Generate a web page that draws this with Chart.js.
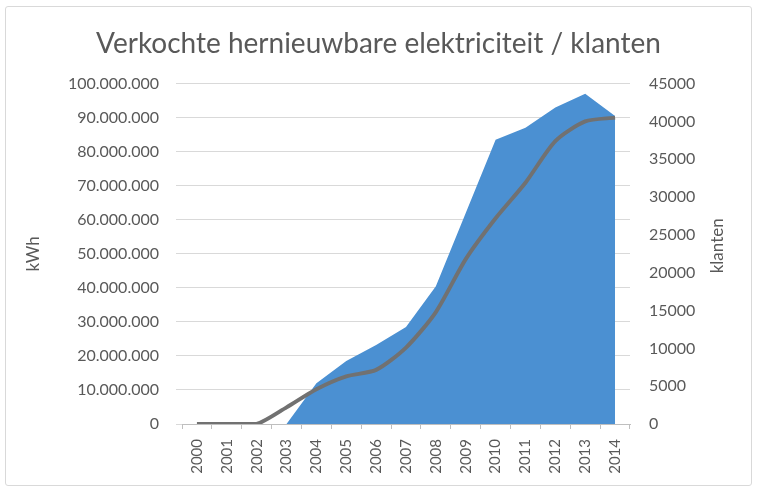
<!DOCTYPE html>
<html>
<head>
<meta charset="utf-8">
<script src="https://cdn.jsdelivr.net/npm/chart.js@4.4.1/dist/chart.umd.min.js"></script>
<style>
  html, body { margin: 0; padding: 0; background: #ffffff; }
  #wrap { position: relative; width: 757px; height: 491px; }
  #frame { position: absolute; left: 5px; top: 6px; width: 745px; height: 478px; border: 1px solid #d9d9d9; border-radius: 3px; pointer-events: none; }
  canvas { position: absolute; left: 0; top: 0; }
</style>
</head>
<body>
<div id="wrap">
  <canvas id="c" width="757" height="491"></canvas>
  <div id="frame"></div>
</div>
<script>
const titleText = 'Verkochte hernieuwbare elektriciteit / klanten';
const leftAxisTitle = 'kWh';
const rightAxisTitle = 'klanten';
const years = ['2000','2001','2002','2003','2004','2005','2006','2007','2008','2009','2010','2011','2012','2013','2014'];
const kwh = [0, 0, 0, 0, 12000000, 18500000, 23200000, 28500000, 40500000, 62000000, 83500000, 87000000, 93000000, 97000000, 90500000];
const klanten = [0, 0, 0, 2200, 4600, 6300, 7150, 10100, 14800, 21800, 27200, 31900, 37400, 40000, 40500];

const textColor = '#595959';
const gridColor = '#d9d9d9';
const FONT = 'Lato';

function dotThousands(v) {
  return String(Math.round(v)).replace(/\B(?=(\d{3})+(?!\d))/g, '.');
}

const rightTitlePlugin = {
  id: 'rightTitle',
  afterDraw(chart) {
    const ctx = chart.ctx;
    const area = chart.chartArea;
    ctx.save();
    ctx.translate(718, (area.top + area.bottom) / 2 - 8);
    ctx.rotate(-Math.PI / 2);
    ctx.font = '17px ' + FONT;
    ctx.fillStyle = textColor;
    ctx.textAlign = 'center';
    ctx.textBaseline = 'middle';
    ctx.fillText(rightAxisTitle, 0, 0);
    ctx.restore();
  }
};

new Chart(document.getElementById('c'), {
  type: 'line',
  data: {
    labels: years,
    datasets: [
      {
        label: 'klanten',
        data: klanten,
        yAxisID: 'y1',
        borderColor: '#717171',
        borderWidth: 4,
        pointRadius: 0,
        fill: false,
        tension: 0.25,
        order: 0
      },
      {
        label: 'kWh',
        data: kwh,
        yAxisID: 'y',
        backgroundColor: '#4b90d2',
        borderColor: '#4b90d2',
        borderWidth: 0,
        pointRadius: 0,
        fill: 'origin',
        tension: 0,
        order: 1
      }
    ]
  },
  options: {
    responsive: false,
    animation: false,
    events: [],
    layout: { padding: { left: 0, right: 0, top: 0, bottom: 0 } },
    plugins: {
      legend: { display: false },
      tooltip: { enabled: false },
      title: {
        display: true,
        text: titleText,
        color: textColor,
        font: { family: FONT, size: 28, weight: 'normal', lineHeight: 1.2 },
        padding: { top: 27, bottom: 23 }
      }
    },
    scales: {
      x: {
        type: 'category',
        offset: true,
        grid: { offset: true, drawOnChartArea: false, drawTicks: true, tickLength: 5, color: '#bfbfbf' },
        border: { display: true, color: '#bfbfbf' },
        ticks: { color: textColor, font: { family: FONT, size: 15 }, minRotation: 90, maxRotation: 90, padding: 10, autoSkip: false },
        afterFit(scale) { scale.height = 491 - 424; }
      },
      y: {
        position: 'left',
        min: 0,
        max: 100000000,
        grid: { color: gridColor, tickLength: 6 },
        border: { display: false },
        ticks: { stepSize: 10000000, color: textColor, font: { family: FONT, size: 16 }, padding: 17, callback: v => dotThousands(v) },
        title: { display: true, text: leftAxisTitle, color: textColor, font: { family: FONT, size: 17 }, padding: { top: 23, bottom: 0 } },
        afterFit(scale) { scale.width = 182; }
      },
      y1: {
        position: 'right',
        min: 0,
        max: 45000,
        grid: { drawOnChartArea: false, display: false },
        border: { display: false },
        ticks: { stepSize: 5000, color: textColor, font: { family: FONT, size: 16 }, padding: 11, callback: v => String(v) },
        afterFit(scale) { scale.width = 757 - 630; }
      }
    }
  },
  plugins: [rightTitlePlugin]
});
</script>
</body>
</html>
